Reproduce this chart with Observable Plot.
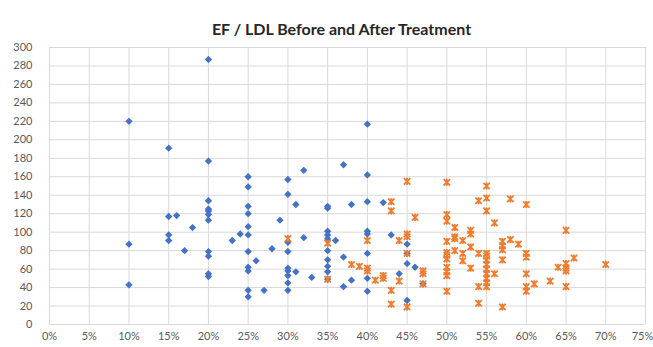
<!DOCTYPE html>
<html>
<head>
<meta charset="utf-8">
<script src="https://cdn.jsdelivr.net/npm/d3@7"></script>
<script src="https://cdn.jsdelivr.net/npm/@observablehq/plot@0.6"></script>
<style>
  html, body { margin: 0; padding: 0; background: #fff; }
</style>
</head>
<body>
<div id="chart"></div>
<script>
const title = "EF / LDL Before and After Treatment";
const xTicks = [0,0.05,0.10,0.15,0.20,0.25,0.30,0.35,0.40,0.45,0.50,0.55,0.60,0.65,0.70,0.75];
const yTicks = [0,20,40,60,80,100,120,140,160,180,200,220,240,260,280,300];

// Before treatment (blue diamonds): EF (%) and the LDL values at that EF
const beforeEF = [10,15,16,17,18,20,23,24,25,26,27,28,29,30,31,32,33,35,36,37,38,40,42,43,44,45,46,47];
const beforeLDL = [
  [220,87,43],[191,117,97,91],[118],[80],[105],
  [287,177,134,125,123,119,113,79,74,55,52],
  [91],[98],
  [160,149,128,120,106,97,79,62,58,37,30],
  [69],[37],[82],[113],
  [157,141,89,79,61,58,53,45,37],
  [130,57],[167,94],[51],
  [128,126,101,97,93,80,70,63,57,49],
  [91],[173,73,41],[130,48],
  [217,162,133,101,98,77,50,36],
  [132],[97],[55],[87,77,66,26],[62],[44]
];

// After treatment (orange stars)
const afterEF = [30,35,38,39,40,41,42,43,44,45,46,47,50,51,52,53,54,55,56,57,58,59,60,61,63,64,65,66,70];
const afterLDL = [
  [93],[88,49],[65],[63],[91,61,58],[48],[53,50],[133,123,37,22],[91,47],
  [155,98,95,77,19],[116],[58,55,44],
  [154,119,112,90,78,75,71,62,57,53,36],
  [105,95,93,80],[91,77,69],[102,98,84,61],[134,77,41,23],
  [150,137,123,77,74,70,65,60,55,50,45,41],
  [110,55],[90,85,81,70,19],[136,92],[87],
  [130,77,73,55,41,36],[44],[47],[62],[102,66,61,58,41],[72],[65]
];

const toRows = (efs, ldls) => efs.flatMap((e, i) => ldls[i].map(v => ({ef: e / 100, ldl: v})));
const before = toRows(beforeEF, beforeLDL);
const after = toRows(afterEF, afterLDL);

const starSymbol = {
  draw(ctx, size) {
    const r = Math.sqrt(size / Math.PI);
    ctx.moveTo(-r, -r); ctx.lineTo(r, r);
    ctx.moveTo(-r, r); ctx.lineTo(r, -r);
    ctx.moveTo(0, -r * 1.1); ctx.lineTo(0, r * 1.1);
  }
};

const pct = d => Math.round(d * 100) + "%";

const chart = Plot.plot({
  width: 653,
  height: 347,
  marginTop: 47,
  marginBottom: 23,
  marginLeft: 49,
  marginRight: 8,
  style: {fontFamily: "Lato, 'Open Sans', sans-serif", fontSize: "11px", color: "#595959", background: "#fff"},
  x: {domain: [0, 0.75]},
  y: {domain: [0, 300]},
  marks: [
    Plot.gridX(xTicks, {stroke: "#d9d9d9", strokeOpacity: 1, strokeWidth: 1}),
    Plot.gridY(yTicks, {stroke: "#d9d9d9", strokeOpacity: 1, strokeWidth: 1}),
    Plot.axisX(xTicks.slice(0, -1), {tickSize: 0, tickPadding: 8, tickFormat: pct, label: null, fill: "#595959"}),
    Plot.axisX(xTicks.slice(-1), {tickSize: 0, tickPadding: 8, tickFormat: pct, label: null, fill: "#595959", dx: -3}),
    Plot.axisY(yTicks, {tickSize: 0, tickPadding: 17, label: null, fill: "#595959"}),
    Plot.dot(before, {x: "ef", y: "ldl", symbol: "diamond2", fill: "#4472C4", r: 3.3}),
    Plot.dot(after, {x: "ef", y: "ldl", symbol: starSymbol, stroke: "#ED7D31", fill: "none", strokeWidth: 1.8, r: 3.2}),
    Plot.text([title], {frameAnchor: "top", dx: -6, dy: -24, fontSize: 16, fontWeight: "bold", fill: "#262626"})
  ]
});
document.getElementById("chart").appendChild(chart);
</script>
</body>
</html>
